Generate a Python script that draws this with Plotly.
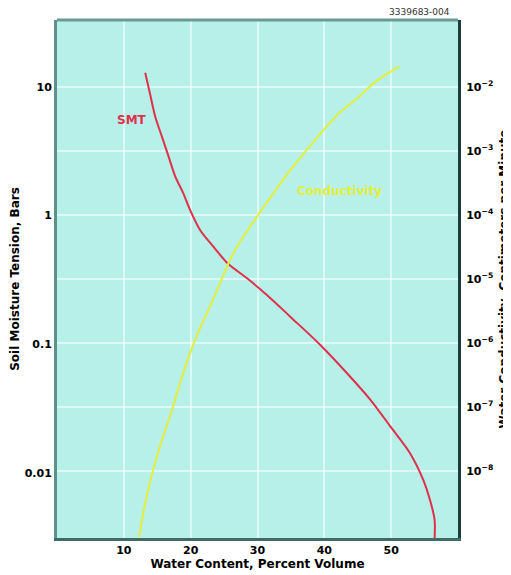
import plotly.graph_objects as go

# Soil moisture tension (bars) vs water content (% volume)
smt_water = [13.2, 13.9, 14.7, 15.7, 16.7, 17.7, 18.9, 19.9, 21.4, 23.4, 25.6, 28.4, 31.4, 34.9, 39.4, 43.4, 46.9, 49.9, 52.8, 54.8, 55.8, 56.5, 56.5]
smt_bars = [12.9, 8.93, 5.87, 4.11, 2.87, 2.01, 1.49, 1.11, 0.774, 0.574, 0.422, 0.327, 0.242, 0.164, 0.0989, 0.0596, 0.037, 0.0229, 0.0143, 0.00883, 0.0062, 0.00432, 0.0031]

# Water conductivity (cm per minute) vs water content (% volume)
cond_water = [12.3, 13.2, 14.4, 15.7, 17.2, 18.4, 19.9, 21.4, 22.9, 24.4, 25.9, 27.4, 29.9, 32.4, 34.9, 37.4, 39.9, 42.4, 44.9, 47.4, 49.9, 51.2]
cond_log = [-9.03, -8.505, -7.98, -7.52, -7.05, -6.63, -6.16, -5.77, -5.43, -5.07, -4.70, -4.42, -4.03, -3.66, -3.30, -2.98, -2.67, -2.39, -2.18, -1.94, -1.76, -1.68]
cond_cm_min = [10 ** v for v in cond_log]

x_ticks = [10, 20, 30, 40, 50]
left_ticks = [10, 1, 0.1, 0.01]
left_ticktext = ["10", "1", "0.1", "0.01"]
right_exps = [-2, -3, -4, -5, -6, -7, -8]
right_ticks = [10 ** e for e in right_exps]
right_ticktext = ["10<sup>\u2212%d</sup>" % (-e) for e in right_exps]

BG = "#b6f0e8"
GRID = "rgba(255,255,255,0.55)"
FONT = "DejaVu Sans"

fig = go.Figure()
fig.add_trace(go.Scatter(x=smt_water, y=smt_bars, mode="lines",
                         line=dict(color="#e0304a", width=2, shape="spline", smoothing=0.8),
                         yaxis="y", showlegend=False))
fig.add_trace(go.Scatter(x=cond_water, y=cond_cm_min, mode="lines",
                         line=dict(color="#e4ee3c", width=2, shape="spline", smoothing=0.8),
                         yaxis="y2", showlegend=False))

fig.update_layout(
    width=511, height=575,
    margin=dict(l=49, r=61, t=12, b=45, autoexpand=False),
    paper_bgcolor="white", plot_bgcolor=BG,
    font=dict(family=FONT, size=11, color="black"),
    xaxis=dict(range=[0, 60], tickvals=x_ticks, showgrid=True, gridcolor=GRID, gridwidth=2,
               zeroline=False, showline=True, linecolor="#3f6d66", linewidth=3, ticks="",
               title=dict(text="Water Content, Percent Volume", standoff=4,
                          font=dict(size=12, weight="bold")),
               tickfont=dict(size=11, weight="bold")),
    yaxis=dict(type="log", range=[-2.505, 1.52], tickvals=left_ticks, ticktext=left_ticktext,
               showgrid=False, zeroline=False, showline=True, linecolor="#5f908a", linewidth=3,
               ticks="", tickfont=dict(size=11, weight="bold"),
               title=dict(text="Soil Moisture Tension, Bars", standoff=8,
                          font=dict(size=12, weight="bold"))),
    yaxis2=dict(type="log", range=[-9.05, -0.953], overlaying="y", side="right",
                tickvals=right_ticks, ticktext=right_ticktext,
                showgrid=True, gridcolor=GRID, gridwidth=2, zeroline=False,
                showline=True, linecolor="#1b3c38", linewidth=3, ticks="",
                ticklabelstandoff=3,
                tickfont=dict(size=11, weight="bold"),
                title=dict(text="Water Conductivity, Centimeters per Minute", standoff=8,
                           font=dict(size=12, weight="bold"))),
    shapes=[dict(type="line", xref="paper", yref="paper", x0=0, x1=1, y0=1, y1=1,
                 line=dict(color="#6a9a94", width=3))],
    annotations=[
        dict(x=11.2, y=0.744, xref="x", yref="y", text="SMT", showarrow=False,
             font=dict(color="#e0304a", size=12, weight="bold")),
        dict(x=42.2, y=0.192, xref="x", yref="y", text="Conductivity", showarrow=False,
             font=dict(color="#e4ee3c", size=12, weight="bold")),
        dict(x=1.0, y=1.0, xref="paper", yref="paper", xanchor="right", yanchor="bottom",
             xshift=-6, yshift=1, text="3339683-004", showarrow=False,
             font=dict(size=9, color="#333")),
    ],
)

fig.write_html("out.html")
